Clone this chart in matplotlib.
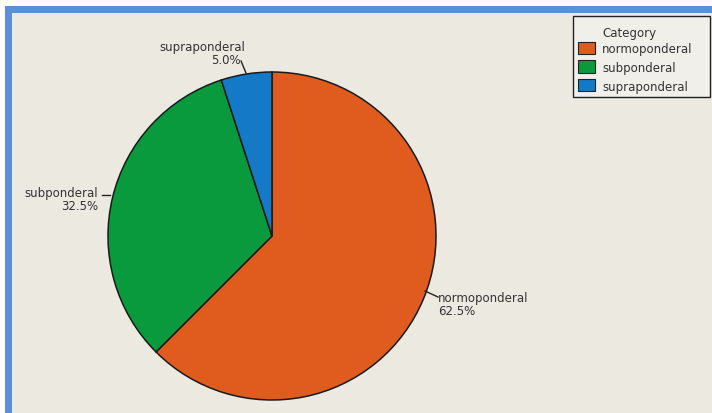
import matplotlib.pyplot as plt
from matplotlib.patches import Rectangle

# data
categories = ["normoponderal", "subponderal", "supraponderal"]
shares = [62.5, 32.5, 5.0]
colors = ["#E05C1E", "#0A9A3E", "#1479C6"]

W, H = 712, 414
BG = "#ECE9E0"


def py(y):
    # pixel row (top-down) -> data y (bottom-up)
    return H - y


fig = plt.figure(figsize=(W / 100, H / 100), dpi=100)
fig.patch.set_facecolor("white")
ax = fig.add_axes([0, 0, 1, 1])

# panel background + blue frame (top and left only)
ax.add_patch(Rectangle((5, 0), W - 5, py(7), facecolor="#5B8FD8", edgecolor="none", zorder=0))
ax.add_patch(Rectangle((12, 0), W - 12, py(14), facecolor=BG, edgecolor="none", zorder=0))

# pie, clockwise from 12 o'clock
ax.pie(shares, colors=colors, startangle=90, counterclock=False,
       center=(272, py(237)), radius=164, frame=True,
       wedgeprops=dict(edgecolor="#1a1a1a", linewidth=1.1))
ax.set_xlim(0, W)
ax.set_ylim(0, H)
ax.set_aspect("equal")
ax.axis("off")

# slice labels with short leader lines
txt = dict(fontsize=8.5, color="#333333", family="DejaVu Sans")
label_spec = [
    # (text x, text y, ha, leader line xs, leader line ys)
    (438, 305, "left", [425, 438], [292, 298]),
    (98, 200, "right", [102, 110], [196, 196]),
    (245, 54, "right", [241, 246], [62, 74]),
]
for name, pct, (tx, ty, ha, lx, ly) in zip(categories, shares, label_spec):
    if name == "supraponderal":
        ax.text(tx, py(ty - 7), name, ha="right", va="center", **txt)
        ax.text(tx - 4, py(ty + 7), f"{pct:.1f}%", ha="right", va="center", **txt)
    else:
        ax.text(tx, py(ty), f"{name}\n{pct:.1f}%", ha=ha, va="center",
                multialignment=ha, linespacing=1.05, **txt)
    ax.plot(lx, [py(v) for v in ly], color="#222222", lw=1.0)

# legend box
ax.add_patch(Rectangle((573, py(98)), 137, 81, facecolor="#F1EFEA",
                       edgecolor="#222222", lw=1.0, zorder=3))
ax.text(602, py(34), "Category", ha="left", va="center", zorder=4, **txt)
for i, (name, c) in enumerate(zip(categories, colors)):
    yc = 50 + i * 18.5
    ax.add_patch(Rectangle((578, py(yc + 5)), 17, 12.5, facecolor=c,
                           edgecolor="#222222", lw=0.8, zorder=4))
    ax.text(602, py(yc), name, ha="left", va="center", zorder=4, **txt)

fig.savefig("out.png", dpi=100, facecolor=fig.get_facecolor())
